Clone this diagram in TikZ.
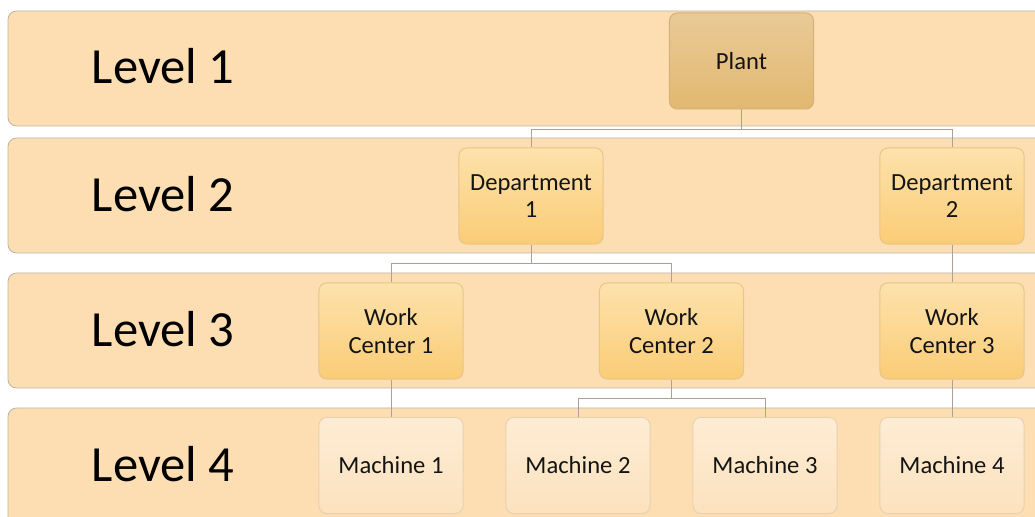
\documentclass[tikz,border=0pt]{standalone}
\usepackage{fontspec}
\setmainfont{Carlito}
\usetikzlibrary{positioning,calc}
\definecolor{bandfill}{RGB}{253,222,178}
\definecolor{bandline}{RGB}{190,180,165}
\definecolor{plantTop}{RGB}{233,202,150}
\definecolor{plantBot}{RGB}{226,184,112}
\definecolor{plantLine}{RGB}{212,176,122}
\definecolor{midTop}{RGB}{253,226,172}
\definecolor{midBot}{RGB}{250,204,118}
\definecolor{midLine}{RGB}{232,196,138}
\definecolor{machTop}{RGB}{253,236,212}
\definecolor{machBot}{RGB}{252,226,190}
\definecolor{machLine}{RGB}{233,209,176}
\definecolor{connLine}{RGB}{168,162,152}

\begin{document}
\begin{tikzpicture}[x=0.025cm,y=-0.025cm,
    band/.style={draw=bandline,fill=bandfill,line width=0.6pt,rounded corners=6pt},
    lvl/.style={font=\fontsize{36}{40}\selectfont,text=black},
    box/.style={rounded corners=5.5pt,line width=0.7pt,minimum width=3.6cm,minimum height=2.4cm,
        align=center,inner sep=0pt,font=\fontsize{17.5}{19.5}\selectfont,text=black!92},
    plantbox/.style={box,draw=plantLine,top color=plantTop,bottom color=plantBot},
    midbox/.style={box,draw=midLine,top color=midTop,bottom color=midBot},
    machbox/.style={box,draw=machLine,top color=machTop,bottom color=machBot},
    conn/.style={draw=connLine,line width=0.7pt}]

        \useasboundingbox (0,0) rectangle (1035,517);
        \clip (0,0) rectangle (1035,517);

        % the four level bands
        \draw[band] (8,11) rectangle (1060,126);
        \draw[band] (8,138) rectangle (1060,253);
        \draw[band] (8,273) rectangle (1060,388);
        \draw[band] (8,408) rectangle (1060,530);

        \node[lvl] (lv1) at (163,66) {Level 1};
        \node[lvl] (lv2) at (163,194) {Level 2};
        \node[lvl] (lv3) at (163,329) {Level 3};
        \node[lvl] (lv4) at (163,464) {Level 4};

        \node[plantbox] (plant) at (741.5,61) {Plant};

        \node[midbox] (d1) at (531,196) {Department\\1};
        \node[midbox] (d2) at (952,196) {Department\\2};

        \node[midbox] (wc1) at (391,331) {Work\\Center 1};
        \node[midbox] (wc2) at (671.5,331) {Work\\Center 2};
        \node[midbox] (wc3) at (952,331) {Work\\Center 3};

        \node[machbox] (m1) at (391,465.5) {Machine 1};
        \node[machbox] (m2) at (578,465.5) {Machine 2};
        \node[machbox] (m3) at (765,465.5) {Machine 3};
        \node[machbox] (m4) at (952,465.5) {Machine 4};

        \coordinate (bar1) at (741.5,129);
        \coordinate (bar2) at (531,263);
        \coordinate (bar3) at (671.5,398);

        \draw[conn] (plant.south) -- (bar1) -| (d1.north);
        \draw[conn] (bar1) -| (d2.north);

        \draw[conn] (d1.south) -- (bar2) -| (wc1.north);
        \draw[conn] (bar2) -| (wc2.north);
        \draw[conn] (d2.south) -- (wc3.north);

        \draw[conn] (wc1.south) -- (m1.north);
        \draw[conn] (wc2.south) -- (bar3) -| (m2.north);
        \draw[conn] (bar3) -| (m3.north);
        \draw[conn] (wc3.south) -- (m4.north);
    \end{tikzpicture}
\end{document}
